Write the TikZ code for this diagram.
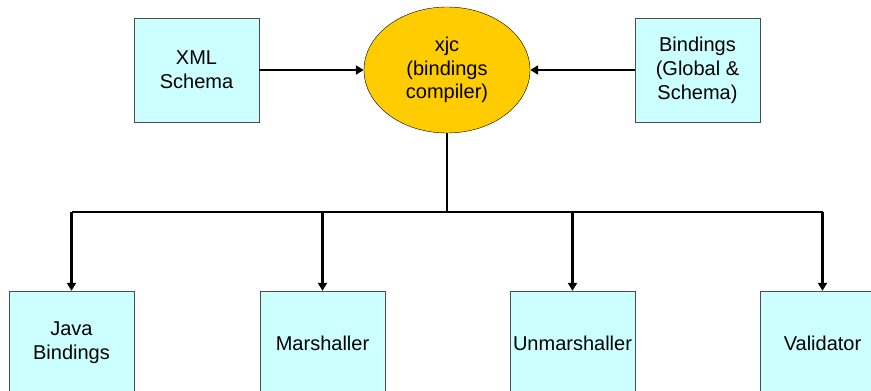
\documentclass[tikz,border=0pt]{standalone}
\usepackage{fontspec}
\setmainfont{Liberation Sans}
\usetikzlibrary{arrows.meta,shapes.geometric}
\definecolor{boxcyan}{HTML}{CCFFFF}
\definecolor{xjcgold}{HTML}{FFCC00}
\tikzset{
  box/.style={draw=black!70,fill=boxcyan,minimum width=125pt,minimum height=104pt,
    inner sep=0pt,align=center,font=\fontsize{20}{24}\selectfont},
  link/.style={line width=2.2pt,-{Triangle[length=8pt,width=9pt]}}
}
\begin{document}
\begin{tikzpicture}[x=1pt,y=-1pt]
\useasboundingbox (0,0) rectangle (871,391);
\clip (0,0) rectangle (871,391);
% inputs and compiler
\node[box] (schema) at (196.5,70) {XML\\Schema};
\node[box] (bind) at (697.5,70) {Bindings\\(Global \&\\Schema)};
\node[ellipse,draw,fill=xjcgold,minimum width=166pt,minimum height=126pt,inner sep=0pt,
  align=center,font=\fontsize{20}{23.5}\selectfont] (xjc) at (447,70) {xjc\\(bindings\\compiler)};
\draw[link] (schema) -- (xjc);
\draw[link] (bind) -- (xjc);
% generated parts
\node[box] (java) at (71.5,343) {Java\\Bindings};
\node[box] (marsh) at (322.5,343) {Marshaller};
\node[box] (unmarsh) at (572.5,343) {Unmarshaller};
\node[box] (valid) at (822.5,343) {Validator};
\coordinate (bus) at (447,212);
\draw[line width=2.2pt] (xjc.south) -- (bus);
\draw[line width=2.2pt] (bus -| java.north) -- (bus -| valid.north);
\foreach \n in {java,marsh,unmarsh,valid}
  \draw[link] (bus -| \n.north) -- (\n.north);
\end{tikzpicture}
\end{document}
